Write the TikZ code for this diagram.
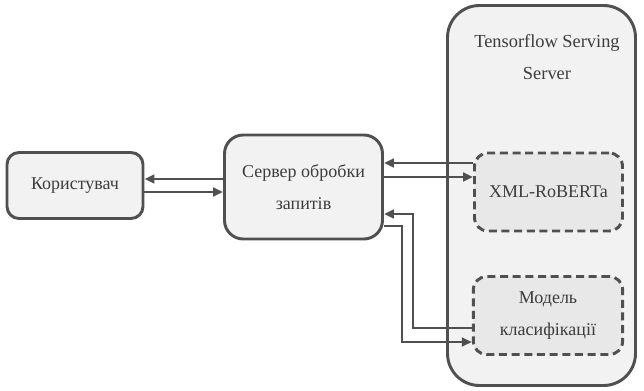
\documentclass[tikz,border=0pt]{standalone}
\usepackage{fontspec}
\setmainfont{Liberation Serif}
\usepackage{xcolor}
\usepackage{tikz}
\usetikzlibrary{arrows.meta}

\definecolor{edgegray}{HTML}{505050}
\definecolor{textgray}{HTML}{3C3C3C}
\definecolor{boxfill}{HTML}{F2F2F2}
\definecolor{innerfill}{HTML}{E8E8E8}

\tikzset{
  box/.style={draw=edgegray, fill=boxfill, line width=2.2pt, text=textgray,
    align=center, font=\fontsize{13.5}{23.5}\selectfont, inner sep=0pt},
  modelbox/.style={box, fill=innerfill, dash pattern=on 6pt off 3.5pt,
    rounded corners=10pt, minimum width=111pt, minimum height=58.5pt},
  link/.style={draw=edgegray, line width=2.2pt,
    -{Triangle[length=7.5pt,width=6.5pt]}}
}

\begin{document}
\begin{tikzpicture}[x=0.75pt, y=-0.75pt]

\useasboundingbox (0,0) rectangle (644,390);

% tensorflow serving
\node[box, rounded corners=24pt, minimum width=141pt, minimum height=285pt] (tfs) at (541.5,195.5) {};
\node[text=textgray, align=center, font=\fontsize{13.8}{23.5}\selectfont] (tfstitle) at (547,57) {Tensorflow Serving\\Server};

\node[modelbox] (xlmr) at (548.5,192) {XML-RoBERTa};
\node[modelbox, minimum width=112pt] (clf) at (548,315.5) {Модель\\класифікації};

% client and backend
\node[box, rounded corners=9pt, minimum width=102pt, minimum height=49.5pt] (user) at (75,185.5) {Користувач};
\node[box, rounded corners=14pt, minimum width=118.5pt, minimum height=78pt] (srv) at (303.5,187) {Сервер обробки\\запитів};

\draw[link] (srv.west |- 0,179) -- (user.east |- 0,179);
\draw[link] (user.east |- 0,192) -- (srv.west |- 0,192);

\draw[link] (xlmr.west |- 0,163) -- (srv.east |- 0,163);
\draw[link] (srv.east |- 0,177) -- (xlmr.west |- 0,177);

\draw[link] (clf.west |- 0,328) -- (413,328) |- (srv.east |- 0,214);
\draw[link] (srv.east |- 0,226) -- (402,226) |- (clf.west |- 0,342);

\end{tikzpicture}
\end{document}
